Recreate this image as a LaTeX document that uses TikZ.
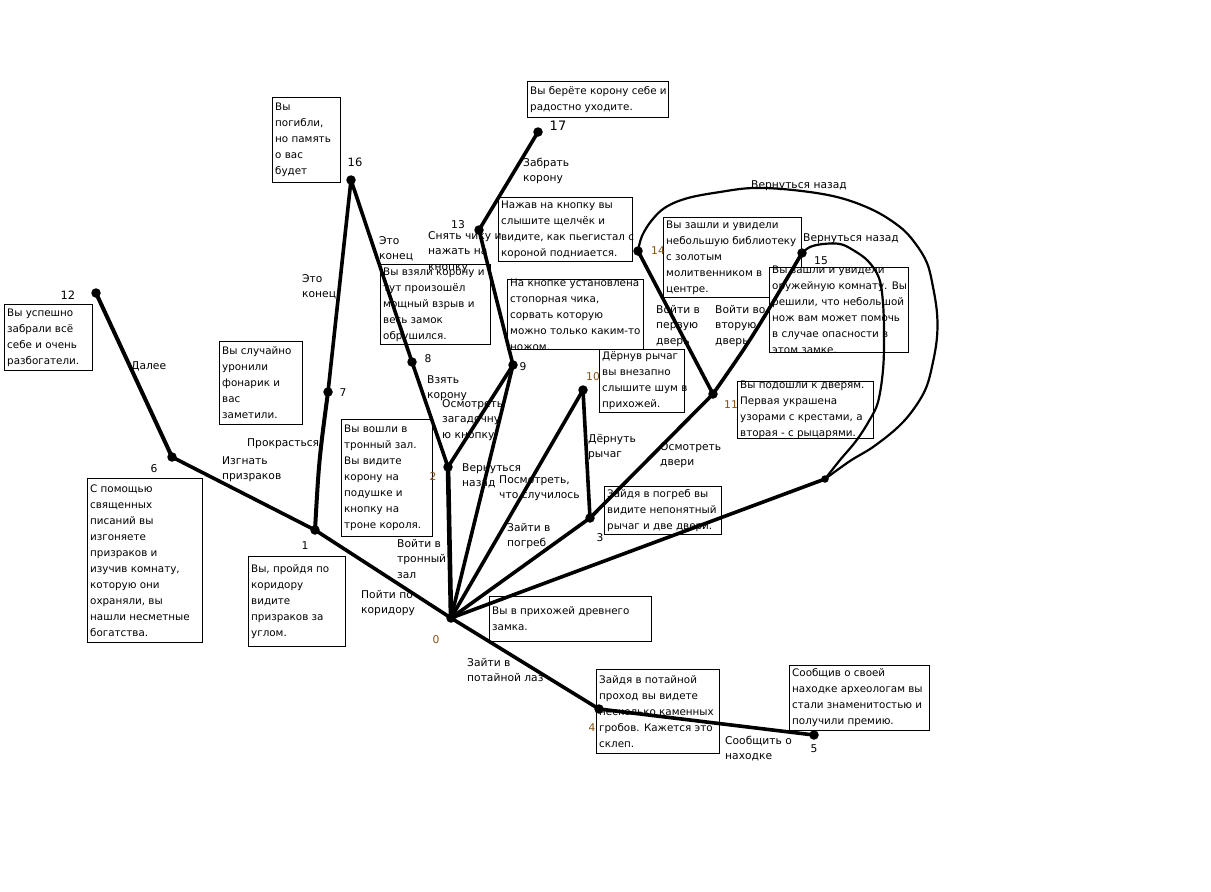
\documentclass[tikz,border=0pt]{standalone}
\usepackage{fontspec}
\setmainfont{DejaVu Sans}
\newcommand\labfnt{\fontsize{10.7}{15.5}\selectfont}
\newcommand\boxfnt{\fontsize{10.35}{16}\selectfont}
\definecolor{numc}{RGB}{130,80,20}
\begin{document}
\begin{tikzpicture}[x=1pt,y=-1pt,
  boxst/.style={draw=black, fill=white, line width=0.9pt, anchor=north west, inner sep=0pt},
  btext/.style={anchor=west, inner sep=0pt, align=left, font=\boxfnt},
  elab/.style={anchor=north west, inner sep=0pt, align=left, font=\labfnt},
  numst/.style={inner sep=0pt, font=\labfnt},
  dot/.style={circle, fill=black, inner sep=0pt, minimum size=9.5pt},
  conn/.style={line width=3.6pt, line cap=round, line join=round},
  loopst/.style={line width=2.2pt, line cap=round, line join=round}]
\useasboundingbox (0,0) rectangle (1211,892);
\fill[white] (0,0) rectangle (1211,892);

% ---------- boxes ----------
\newcommand\mybox[6]{%
  \node[boxst, minimum width=#4-#2, minimum height=#5-#3] (b#1) at (#2,#3) {};
  \node[btext] (t#1) at ([xshift=3pt]b#1.west) {#6};}
\mybox{12}{4}{304}{92}{370}{Вы успешно\\забрали всё\\себе и очень\\разбогатели.}
\mybox{7}{219}{341}{302}{424}{Вы случайно\\уронили\\фонарик и\\вас\\заметили.}
\mybox{6}{87}{478}{202}{642}{С помощью\\священных\\писаний вы\\изгоняете\\призраков и\\изучив комнату,\\которую они\\охраняли, вы\\нашли несметные\\богатства.}
\mybox{1}{248}{556}{345}{646}{Вы, пройдя по\\коридору\\видите\\призраков за\\углом.}
\mybox{16}{272}{97}{340}{182}{Вы\\погибли,\\но память\\о вас\\будет}
\mybox{8}{380}{264}{490}{344}{Вы взяли корону и\\тут произошёл\\мощный взрыв и\\весь замок\\обрушился.}
\mybox{17}{527}{81}{668}{117}{Вы берёте корону себе и\\радостно уходите.}
\mybox{13}{498}{197}{632}{261}{Нажав на кнопку вы\\слышите щелчёк и\\видите, как пьегистал с\\короной подниается.}
\mybox{9}{507}{279}{643}{349}{На кнопке установлена\\стопорная чика,\\сорвать которую\\можно только каким-то\\ножом.}
\mybox{14}{663}{217}{801}{297}{Вы зашли и увидели\\небольшую библиотеку\\с золотым\\молитвенником в\\центре.}
\mybox{15}{769}{267}{908}{352}{Вы зашли и увидели\\оружейную комнату. Вы\\решили, что небольшой\\нож вам может помочь\\в случае опасности в\\этом замке.}
\mybox{10}{599}{349}{684}{412}{Дёрнув рычаг\\вы внезапно\\слышите шум в\\прихожей.}
\mybox{11}{737}{381}{873}{438}{Вы подошли к дверям.\\Первая украшена\\узорами с крестами, а\\вторая - с рыцарями.}
\mybox{3}{604}{486}{721}{534}{Зайдя в погреб вы\\видите непонятный\\рычаг и две двери.}
\mybox{2}{341}{419}{432}{536}{Вы вошли в\\тронный зал.\\Вы видите\\корону на\\подушке и\\кнопку на\\троне короля.}
\mybox{0}{489}{596}{651}{641}{Вы в прихожей древнего\\замка.}
\mybox{4}{596}{669}{719}{753}{Зайдя в потайной\\проход вы видете\\несколько каменных\\гробов. Кажется это\\склеп.}
\mybox{5}{789}{665}{929}{730}{Сообщив о своей\\находке археологам вы\\стали знаменитостью и\\получили премию.}

% ---------- edge labels ----------
\node[elab] (l612) at (131,358) {\strut Далее};
\node[elab] (l17) at (247,435) {\strut Прокрасться};
\node[elab] (l16) at (222,453) {\strut Изгнать\\призраков};
\node[elab] (l716) at (302,271) {\strut Это\\конец};
\node[elab] (l168) at (379,233) {\strut Это\\конец};
\node[elab] (l913) at (428,228) {\strut Снять чику и\\нажать на\\кнопку};
\node[elab] (l82) at (427,372) {\strut Взять\\корону};
\node[elab] (l29) at (442,396) {\strut Осмотреть\\загадочну\\ю кнопку};
\node[elab] (l90) at (462,460) {\strut Вернуться\\назад};
\node[elab] (l100) at (499,472) {\strut Посмотреть,\\что случилось};
\node[elab] (l03) at (507,520) {\strut Зайти в\\погреб};
\node[elab] (l310) at (588,431) {\strut Дёрнуть\\рычаг};
\node[elab] (l02) at (397,536) {\strut Войти в\\тронный\\зал};
\node[elab] (l01) at (361,587) {\strut Пойти по\\коридору};
\node[elab] (l1317) at (523,155) {\strut Забрать\\корону};
\node[elab] (l1114) at (656,302) {\strut Войти в\\первую\\дверь};
\node[elab] (l1115) at (715,302) {\strut Войти во\\вторую\\дверь};
\node[elab] (l311) at (660,439) {\strut Осмотреть\\двери};
\node[elab] (l04) at (467,655) {\strut Зайти в\\потайной лаз};
\node[elab] (l45) at (725,733) {\strut Сообщить о\\находке};
\node[elab] (l14J) at (751,177) {\strut Вернуться назад};
\node[elab] (l15J) at (803,230) {\strut Вернуться назад};

% ---------- dots ----------
\node[dot] (n0) at (451,618) {};
\node[dot] (n1) at (315,530) {};
\node[dot] (n2) at (448,467) {};
\node[dot] (n3) at (590,518) {};
\node[dot] (n4) at (599,709) {};
\node[dot] (n5) at (814,735) {};
\node[dot] (n6) at (172,457) {};
\node[dot] (n7) at (328,392) {};
\node[dot] (n8) at (412,362) {};
\node[dot] (n9) at (513,365) {};
\node[dot] (n10) at (583,390) {};
\node[dot] (n11) at (713,394) {};
\node[dot] (n12) at (96,293) {};
\node[dot] (n13) at (479,230) {};
\node[dot] (n14) at (638,251) {};
\node[dot] (n15) at (802,253) {};
\node[dot] (n16) at (351,180) {};
\node[dot] (n17) at (538,132) {};
\node[dot, minimum size=7.5pt] (nJ) at (825,479) {};

% ---------- connectors ----------
\draw[conn, line width=4pt] (n6.center) -- (n12.center);
\draw[conn] (n1.center) -- (n6.center);
\draw[conn] (n0.center) -- (n1.center);
\draw[conn, line width=4pt] (n1.center) .. controls (319,460) .. (n7.center);
\draw[conn] (n7.center) -- (n16.center);
\draw[conn] (n16.center) -- (n8.center);
\draw[conn] (n8.center) -- (n2.center);
\draw[conn, line width=4.6pt] (n2.center) -- (n0.center);
\draw[conn] (n2.center) -- (n9.center);
\draw[conn] (n9.center) -- (n0.center);
\draw[conn] (n9.center) -- (n13.center);
\draw[conn] (n13.center) -- (n17.center);
\draw[conn] (n0.center) -- (n10.center);
\draw[conn] (n10.center) -- (n3.center);
\draw[conn] (n0.center) -- (n3.center);
\draw[conn] (n3.center) -- (n11.center);
\draw[conn] (n11.center) -- (n14.center);
\draw[conn] (n11.center) .. controls (752,338) .. (n15.center);
\draw[conn] (n0.center) -- (n4.center);
\draw[conn] (n4.center) -- (n5.center);
\draw[conn] (nJ.center) -- (n0.center);
\draw[loopst] plot[smooth, tension=0.6] coordinates {(n14.center) (642,236) (652,220) (666,207) (688,198) (720,192) (753,188) (793,190) (837,197) (873,210) (900,227) (915,243) (927,263) (933,287) (937,313) (937,337) (933,362) (926,388) (913,410) (897,428) (873,447) (850,461) (nJ.center)};
\draw[loopst] plot[smooth, tension=0.6] coordinates {(n15.center) (810,247) (823,244) (840,244) (853,250) (868,261) (879,278) (883,303) (884,337) (883,370) (878,402) (869,421) (856,441) (840,460) (nJ.center)};

% ---------- numbers ----------
\node[numst, text=numc] (k0) at (436,640) {0};
\node[numst] (k1) at (305,546) {1};
\node[numst, text=numc] (k2) at (433,477) {2};
\node[numst] (k3) at (600,538) {3};
\node[numst, text=numc] (k4) at (592,728) {4};
\node[numst] (k5) at (814,749) {5};
\node[numst] (k6) at (154,469) {6};
\node[numst] (k7) at (343,393) {7};
\node[numst] (k8) at (428,359) {8};
\node[numst] (k9) at (523,367) {9};
\node[numst, text=numc] (k10) at (593,377) {10};
\node[numst, text=numc] (k11) at (731,405) {11};
\node[numst, font=\fontsize{11.5}{14}\selectfont] (k12) at (68,295) {12};
\node[numst] (k13) at (458,225) {13};
\node[numst, text=numc] (k14) at (658,251) {14};
\node[numst] (k15) at (821,261) {15};
\node[numst, font=\fontsize{11.5}{14}\selectfont] (k16) at (355,162) {16};
\node[numst, font=\fontsize{13}{15}\selectfont] (k17) at (558,126) {17};
\end{tikzpicture}
\end{document}
